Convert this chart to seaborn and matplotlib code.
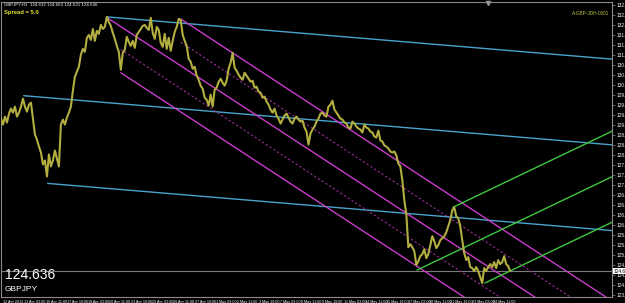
import numpy as np
import pandas as pd
import matplotlib
matplotlib.use("Agg")
import matplotlib.pyplot as plt
import seaborn as sns

# ---------------- data ----------------
# GBPJPY H1 closes, one value every 3 bars
close = [
    129.23, 129.05, 129.29, 129.11, 129.38, 129.53, 129.41, 129.59, 129.29, 129.41,
    129.59, 129.83, 129.59, 129.44, 129.65, 129.71, 129.23, 128.75, 128.60, 128.39,
    128.21, 127.85, 127.97, 127.49, 128.15, 127.79, 127.97, 128.27, 128.03, 127.79,
    129.05, 129.20, 129.05, 129.26, 129.41, 129.59, 130.07, 130.49, 130.64, 130.79,
    131.15, 131.33, 131.24, 131.66, 131.75, 131.60, 131.93, 131.57, 131.87, 131.78,
    132.05, 131.93, 131.99, 132.29, 132.14, 132.02, 131.81, 131.63, 131.42, 131.24,
    130.70, 131.21, 131.30, 131.69, 131.54, 131.42, 131.57, 131.36, 131.75, 131.84,
    131.93, 132.02, 132.05, 131.96, 131.90, 132.26, 131.81, 131.63, 131.99, 131.90,
    131.51, 131.39, 131.78, 131.33, 131.66, 131.27, 131.57, 131.84, 131.99, 132.23,
    132.20, 131.75, 131.57, 131.42, 131.03, 130.94, 130.73, 130.79, 130.52, 130.40,
    130.22, 130.13, 129.86, 129.80, 129.62, 129.95, 129.59, 130.10, 130.16, 130.34,
    130.43, 130.31, 130.22, 130.37, 130.73, 130.91, 131.21, 130.76, 130.67, 130.55,
    130.46, 130.40, 130.61, 130.52, 130.43, 130.34, 130.37, 130.16, 130.19, 130.04,
    130.01, 129.86, 129.89, 129.74, 129.65, 129.50, 129.41, 129.53, 129.32, 129.23,
    129.08, 129.20, 129.32, 129.38, 129.26, 129.14, 129.08, 129.23, 129.29, 129.20,
    129.14, 129.17, 128.96, 128.84, 128.45, 128.78, 128.90, 128.99, 129.14, 129.23,
    129.38, 129.41, 129.32, 129.29, 129.59, 129.65, 129.77, 129.50, 129.41, 129.32,
    129.23, 129.20, 129.11, 129.08, 128.96, 128.93, 129.14, 129.08, 128.99, 128.93,
    128.90, 128.81, 129.05, 128.96, 128.93, 128.84, 128.81, 128.69, 128.66, 128.87,
    128.57, 128.54, 128.42, 128.39, 128.33, 128.24, 128.21, 128.24, 128.12, 127.88,
    127.79, 127.37, 126.77, 126.35, 125.36, 125.45, 125.36, 125.24, 124.82, 124.94,
    125.09, 125.15, 125.30, 125.03, 125.15, 125.42, 125.69, 125.54, 125.33, 125.42,
    125.57, 125.63, 125.69, 125.81, 125.99, 126.17, 126.47, 126.56, 126.29, 126.23,
    125.99, 125.57, 125.18, 124.97, 125.06, 124.76, 124.73, 124.64, 124.76, 124.64,
    124.46, 124.28, 124.73, 124.64, 124.76, 124.85, 124.76, 124.91, 124.73, 124.97,
    124.85, 124.91, 125.09, 124.85, 124.79, 124.636,
]
bar_step = 3
last_price = 124.636

# trend lines: (start bar, start price, end bar, end price)
cyan_lines = [
    (160, 132.29, 918, 131.02),
    (34, 129.92, 918, 128.44),
    (70, 127.28, 918, 125.86),
]
magenta_lines = [
    (270, 132.23, 918, 123.74),
    (160, 132.26, 918, 122.34),
    (180, 130.61, 918, 120.95),
]
magenta_dotted = [
    (270, 131.53, 918, 123.04),
    (180, 131.31, 918, 121.65),
]
green_lines = [
    (625, 124.67, 918, 127.48),
    (679, 126.56, 918, 128.85),
    (727, 124.28, 918, 126.11),
]

time_labels = ["12 Apr 2012", "13 Apr 03:00", "16 Apr 11:00", "17 Apr 19:00",
               "19 Apr 03:00", "20 Apr 11:00", "23 Apr 19:00", "25 Apr 03:00",
               "26 Apr 11:00", "27 Apr 19:00", "1 May 03:00", "2 May 11:00",
               "3 May 19:00", "7 May 03:00", "8 May 11:00", "9 May 19:00",
               "11 May 03:00", "14 May 11:00", "15 May 19:00", "17 May 03:00",
               "18 May 11:00", "21 May 19:00", "23 May 03:00", "24 May 11:00"]
time_label_bars = [3 + 32 * i for i in range(len(time_labels))]

price_ticks = [123.935, 124.235, 124.535, 124.835, 125.135, 125.435, 125.735,
               126.035, 126.335, 126.635, 126.935, 127.235, 127.535, 127.835,
               128.135, 128.435, 128.735, 129.035, 129.335, 129.635, 129.935,
               130.235, 130.535, 130.835, 131.135, 131.435, 131.735, 132.035,
               132.335, 132.635]

# ---------------- drawing ----------------
sns.set_style("dark", {"axes.facecolor": "black", "figure.facecolor": "black",
                       "axes.edgecolor": "#808080", "grid.color": "black"})
plt.rcParams["font.family"] = ["Liberation Sans", "DejaVu Sans"]
NARROW = ["Liberation Sans Narrow", "Liberation Sans", "DejaVu Sans"]

df = pd.DataFrame({"bar": np.arange(len(close)) * bar_step, "price": close})

fig = plt.figure(figsize=(6.25, 3.03), dpi=100)
fig.patch.set_facecolor("black")
ax = fig.add_axes([0.0016, 6 / 303, 611 / 625, 295 / 303])
ax.set_facecolor("black")

XMAX = 918
ax.set_xlim(0, XMAX)
ax.set_ylim(123.86, 132.74)

# current price line
ax.axhline(last_price, color="#7a7a7a", lw=0.8, zorder=1)

def seg(lines, color, ls="-", lw=0.9):
    for x0, y0, x1, y1 in lines:
        d = pd.DataFrame({"bar": [x0, x1], "price": [y0, y1]})
        sns.lineplot(data=d, x="bar", y="price", ax=ax, color=color,
                     linestyle=ls, lw=lw, estimator=None, sort=False, zorder=2)

seg(cyan_lines, "#4aa3cc", lw=1.0)
seg(magenta_lines, "#c93cc9", lw=1.0)
seg(magenta_dotted, "#9a2e9a", ls=(0, (2, 2)), lw=0.8)
seg(green_lines, "#3ec83e", lw=1.0)

sns.lineplot(data=df, x="bar", y="price", ax=ax, color="#b3ae40", lw=1.5,
             estimator=None, sort=False, zorder=3)

# axes cosmetics
for s in ax.spines.values():
    s.set_color("#8a8a8a")
    s.set_linewidth(0.8)
ax.grid(False)
ax.set_xlabel("")
ax.set_ylabel("")
ax.yaxis.tick_right()
ax.set_yticks(price_ticks)
ax.set_yticklabels([f"{v:.3f}" for v in price_ticks])
ax.tick_params(axis="y", colors="#8a8a8a", labelcolor="white", labelsize=3.4,
               length=2, width=0.5, pad=1)
ax.set_xticks(time_label_bars)
ax.set_xticklabels(time_labels)
ax.tick_params(axis="x", colors="#8a8a8a", labelcolor="white", labelsize=2.7,
               length=2, width=0.5, pad=0.3)
for t in ax.get_xticklabels():
    t.set_horizontalalignment("left")
    t.set_family(NARROW)

# price tag on the axis
ax.text(1.002, last_price, f"{last_price:.3f}", transform=ax.get_yaxis_transform(),
        fontsize=3.4, color="black", va="center", ha="left",
        bbox=dict(boxstyle="square,pad=0.15", fc="white", ec="none"))

# header texts
fig.text(0.006, 0.992, "GBPJPY,H1  124.632 124.663 124.621 124.636", color="white",
         fontsize=3.2, va="top", ha="left")
fig.text(0.006, 0.967, "Spread = 5.0", color="#e6e62e", fontsize=4.2,
         fontweight="bold", va="top", ha="left")
fig.text(0.975, 0.955, "A-GBP-JDH-0001", color="#b8c040", fontsize=3.4,
         va="center", ha="right")
fig.text(0.008, 0.092, "124.636", color="white", fontsize=10, va="center", ha="left")
fig.text(0.008, 0.045, "GBPJPY", color="white", fontsize=6, va="center", ha="left")

# chart shift marker
ax.plot([732], [132.70], marker="v", color="#9a9a9a", ms=3, clip_on=False)

fig.savefig("out.png", dpi=100, facecolor="black")
